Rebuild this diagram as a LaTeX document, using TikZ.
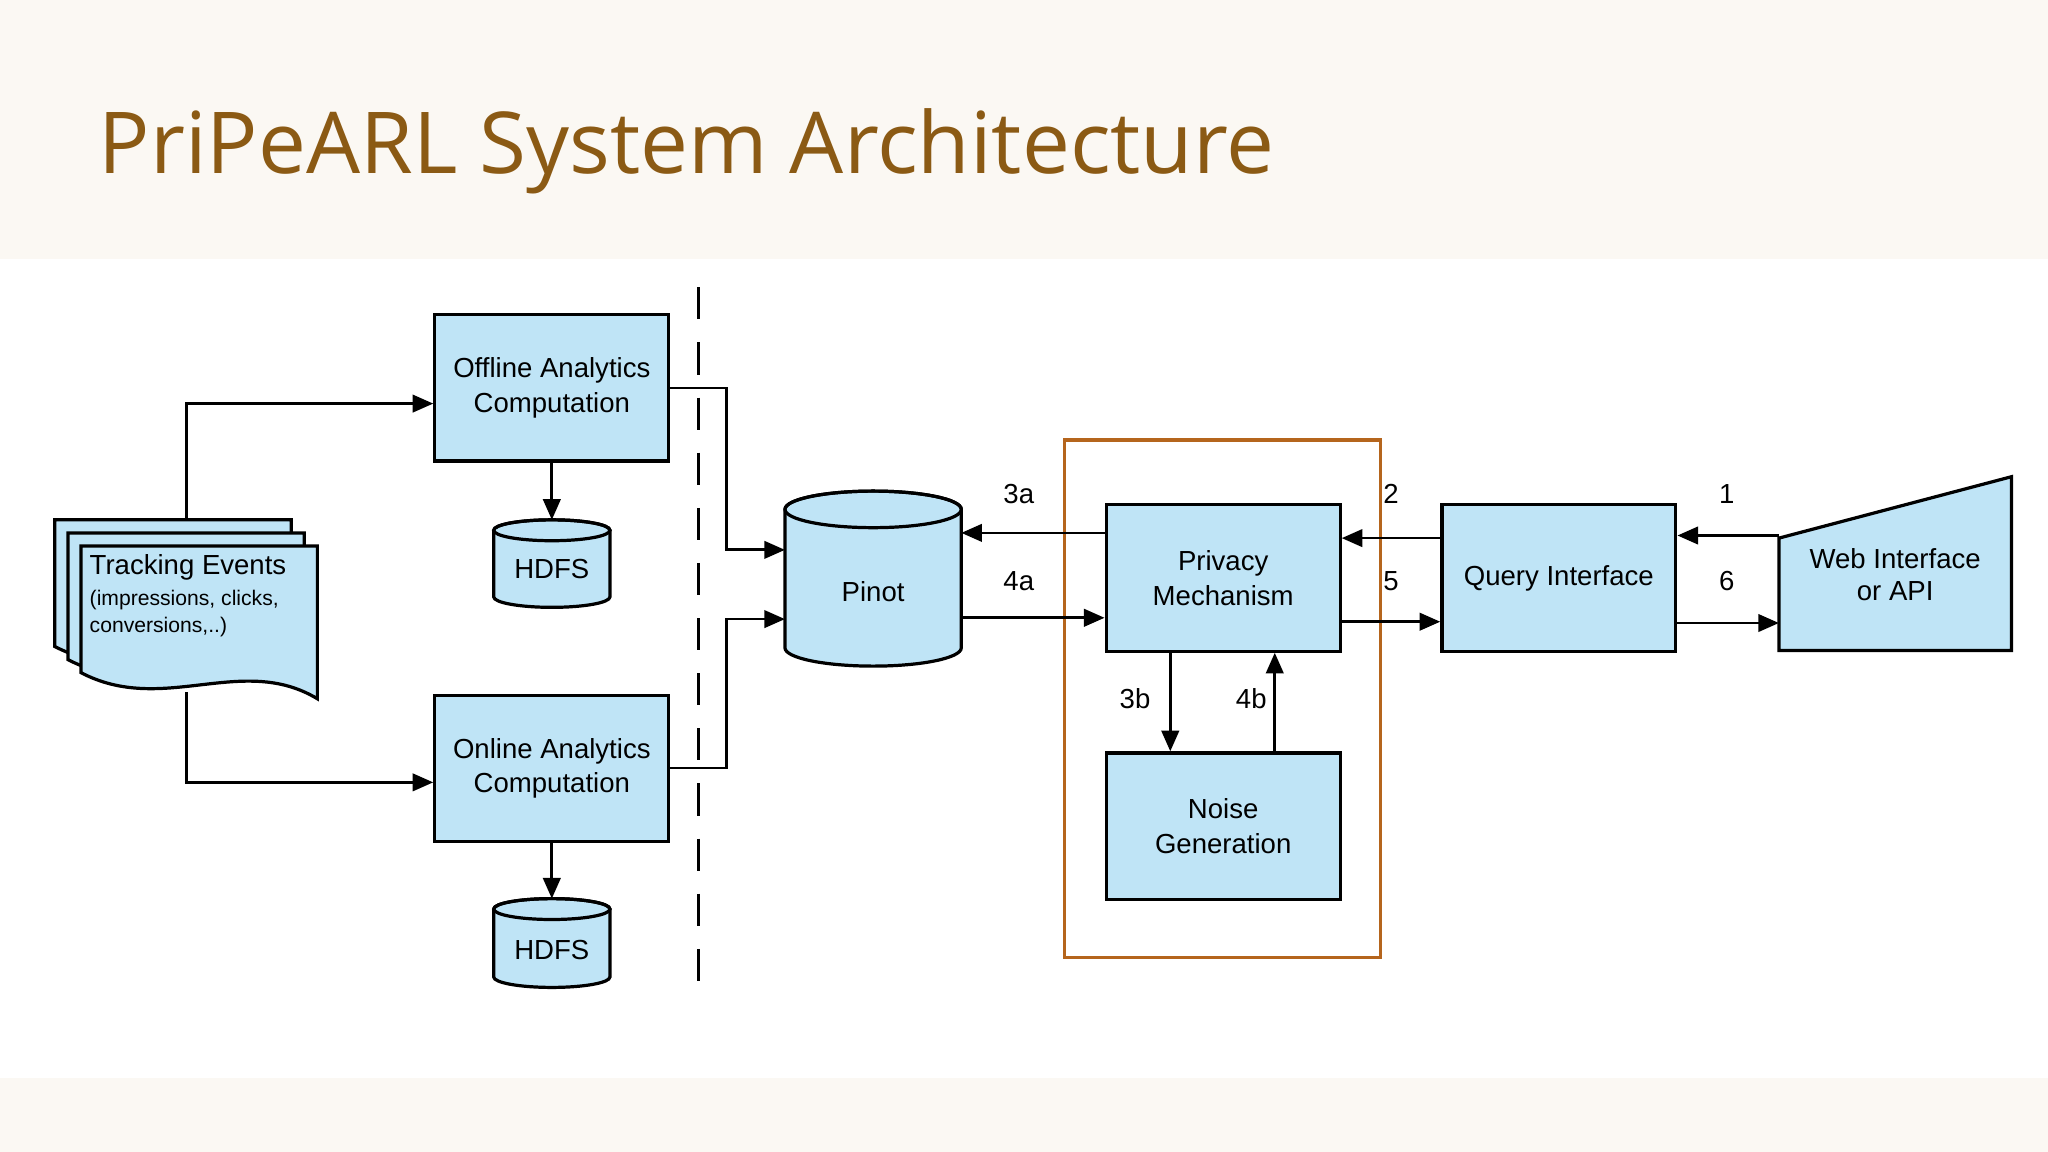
\documentclass[tikz,border=0pt]{standalone}
\usepackage{fontspec}
\setmainfont{Liberation Sans}
\newfontfamily\titlefont{Open Sans}
\usetikzlibrary{arrows.meta}
\definecolor{boxblue}{HTML}{BFE4F6}
\definecolor{cream}{HTML}{FBF8F3}
\definecolor{titlebrown}{HTML}{8B5A14}
\definecolor{framebrown}{HTML}{B5651D}
\begin{document}
\begin{tikzpicture}[x=0.01cm,y=-0.01cm,
  box/.style={draw=black, line width=0.7pt, fill=boxblue, align=center,
    minimum width=1.79cm, minimum height=1.12cm, inner sep=0pt, font=\fontsize{6}{7.5}\selectfont},
  lbl/.style={inner sep=0pt, font=\fontsize{6}{7}\selectfont},
  arr/.style={line width=0.6pt, -{Triangle[length=4.5pt,width=3.8pt]}},
  cyl/.style={draw=black, line width=0.7pt, fill=boxblue}]
\useasboundingbox (0,0) rectangle (1568,882);
\fill[cream] (0,0) rectangle (1568,198);
\fill[cream] (0,825) rectangle (1568,882);
\node[anchor=base west, inner sep=0pt, text=titlebrown, font=\titlefont\fontsize{18.6}{22}\selectfont] (title) at (75,133) {PriPeARL System Architecture};

% tracking events document stack
\foreach \d in {20,10,0}
  \filldraw[cyl] (62-\d,418-\d) -- (243-\d,418-\d) -- (243-\d,535-\d)
    .. controls (185-\d,500-\d) and (125-\d,548-\d) .. (62-\d,515-\d) -- cycle;
\node[anchor=north west, inner sep=0pt, font=\fontsize{6}{7}\selectfont] (trk) at (68,424) {Tracking Events};
\node[anchor=north west, inner sep=0pt, align=left, font=\fontsize{4.6}{6}\selectfont] (trksub) at (68,451)
  {(impressions, clicks,\\conversions,..)};
\coordinate (trktop) at (143,398);
\coordinate (trkbot) at (143,530);

\node[box] (off) at (422.5,297) {Offline Analytics\\Computation};
\node[box] (on) at (422.5,588.5) {Online Analytics\\Computation};

% cylinders
\filldraw[cyl] (378,406) -- (378,457) arc[start angle=180,end angle=0,x radius=44.5,y radius=8] -- (467,406) arc[start angle=0,end angle=-180,x radius=44.5,y radius=8];
\draw[line width=0.7pt] (422.5,406) ellipse[x radius=44.5,y radius=8];
\node[lbl] (hdfs1) at (422.5,436) {HDFS};
\filldraw[cyl] (378,696) -- (378,748) arc[start angle=180,end angle=0,x radius=44.5,y radius=8] -- (467,696) arc[start angle=0,end angle=-180,x radius=44.5,y radius=8];
\draw[line width=0.7pt] (422.5,696) ellipse[x radius=44.5,y radius=8];
\node[lbl] (hdfs2) at (422.5,727) {HDFS};
\filldraw[cyl] (601,390) -- (601,496) arc[start angle=180,end angle=0,x radius=67.5,y radius=14] -- (736,390) arc[start angle=0,end angle=-180,x radius=67.5,y radius=14];
\draw[line width=0.7pt] (668.5,390) ellipse[x radius=67.5,y radius=14];
\node[lbl] (pinot) at (668.5,453) {Pinot};
\coordinate (pinotL1) at (601,421);
\coordinate (pinotL2) at (601,474);
\coordinate (pinotR1) at (736,408);
\coordinate (pinotR2) at (736,473);

\draw[line width=0.7pt, dash pattern=on 7pt off 5pt] (535,220) -- (535,755);

\draw[framebrown, line width=0.8pt] (815,337) rectangle (1057,733);
\node[box] (priv) at (936.5,442.5) {Privacy\\Mechanism};
\node[box] (noise) at (936.5,632.5) {Noise\\Generation};
\node[box] (query) at (1193.5,442.5) {Query Interface};
\filldraw[cyl] (1362,412) -- (1540,365) -- (1540,498) -- (1362,498) -- cycle;
\node[lbl, align=center] (web) at (1451,440) {Web Interface\\or API};
\coordinate (webL1) at (1362,410);
\coordinate (webL2) at (1362,477);

% connectors
\draw[arr] (trktop) |- (off.west |- 0,309);
\draw[arr] (trkbot) |- (on.west |- 0,599);
\draw[arr] (off.east |- 0,297) -| (556,421) -- (pinotL1);
\draw[arr] (on.east |- 0,588) -| (556,474) -- (pinotL2);
\draw[arr] (off.south) -- (422.5,398);
\draw[arr] (on.south) -- (422.5,688);
\draw[arr] (priv.west |- pinotR1) -- (pinotR1);
\draw[arr] (pinotR2) -- (priv.west |- pinotR2);
\draw[arr] (query.west |- 0,412) -- (priv.east |- 0,412);
\draw[arr] (priv.east |- 0,476) -- (query.west |- 0,476);
\draw[arr] (webL1) -- (query.east |- webL1);
\draw[arr] (query.east |- webL2) -- (webL2);
\draw[arr] (priv.south -| 896,0) -- (noise.north -| 896,0);
\draw[arr] (noise.north -| 976,0) -- (priv.south -| 976,0);

\node[lbl] (l3a) at (780,378) {3a};
\node[lbl] (l4a) at (780,445) {4a};
\node[lbl] (l2) at (1065,378) {2};
\node[lbl] (l5) at (1065,445) {5};
\node[lbl] (l1) at (1322,378) {1};
\node[lbl] (l6) at (1322,445) {6};
\node[lbl] (l3b) at (869,535) {3b};
\node[lbl] (l4b) at (958,535) {4b};
\end{tikzpicture}
\end{document}
